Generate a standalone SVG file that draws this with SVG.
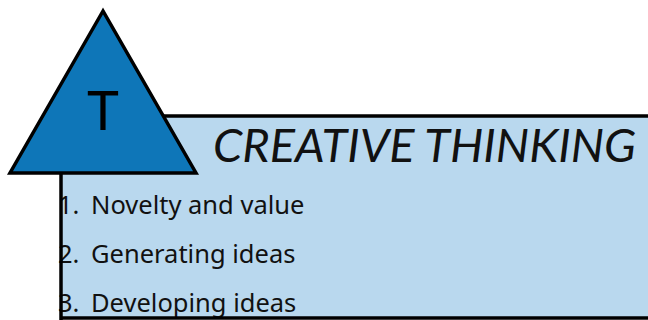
<svg xmlns="http://www.w3.org/2000/svg" width="648" height="320" viewBox="0 0 648 320">
<style>
.box{fill:#b9d8ee;stroke:none}
.edge{fill:none;stroke:#000;stroke-width:3.5}
.tri{fill:#0e76b8;stroke:#000;stroke-width:3.5;stroke-linejoin:miter}
.item{font-family:"Noto Sans","Open Sans",sans-serif;font-size:25.5px;fill:#111}
.title{font-family:Lato,sans-serif;font-style:italic;font-size:47px;fill:#111}
.letter{font-family:Lato,sans-serif;font-size:54px;fill:#000}
</style>
<g id="panel">
<rect class="box" x="61" y="116" width="600" height="202"/>
<text class="title" x="213" y="162">CREATIVE THINKING</text>
<text class="item" x="58" y="214">1.</text>
<text class="item" x="91" y="214">Novelty and value</text>
<text class="item" x="58" y="263">2.</text>
<text class="item" x="91" y="263">Generating ideas</text>
<text class="item" x="58" y="312">3.</text>
<text class="item" x="91" y="312">Developing ideas</text>
<path class="edge" d="M650,116 H61 V320"/>
<path class="edge" d="M61,318 H650"/>
</g>
<g id="triangle">
<polygon class="tri" points="103,11 10,173 196,173"/>
<text class="letter" x="103" y="130" text-anchor="middle">T</text>
</g>
</svg>
